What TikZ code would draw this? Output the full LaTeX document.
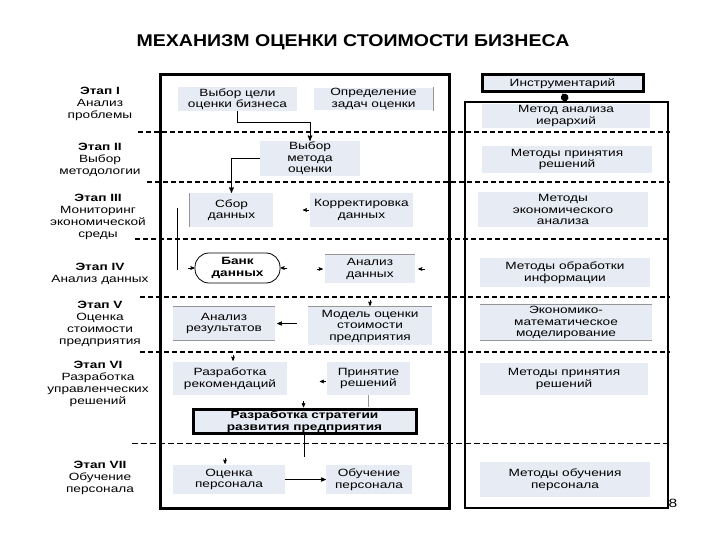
\documentclass[tikz,border=0pt]{standalone}
\usepackage{fontspec}
\setmainfont{Liberation Sans}[FakeStretch=1.3]
\newfontfamily\titlefont{Liberation Sans}[FakeStretch=1.15]
\usepackage{tikz}
\usetikzlibrary{arrows,shapes,calc,positioning}
\definecolor{boxfill}{RGB}{231,235,243}
\definecolor{edgegray}{RGB}{150,150,150}
\tikzstyle{block}=[rectangle,fill=boxfill,align=center,inner sep=1pt]
\tikzstyle{keyblock}=[block,draw=black,line width=3pt,font=\fontsize{10.5}{11.5}\selectfont\bfseries]
\tikzstyle{bank}=[rectangle,rounded corners=14pt,draw=black,line width=.8pt,
			  fill=white,align=center,font=\fontsize{10.5}{11.5}\selectfont\bfseries]
\tikzstyle{frame}=[rectangle,draw=black,line width=3pt]
\tikzstyle{stage}=[align=center,inner sep=0pt,font=\fontsize{10.5}{12}\selectfont]
\tikzstyle{sep}=[black,line width=1.8pt,dash pattern=on 5pt off 3pt]
\tikzstyle{edge}=[edgegray,line width=.8pt]
\tikzstyle{arrow}=[->,line width=.8pt,black]
\tikzstyle{stub}=[->,line width=.6pt,black]
\tikzstyle{wire}=[black,line width=.7pt]

\begin{document}
\begin{tikzpicture}[>=stealth',x=1pt,y=-1pt,
                    font=\fontsize{10.5}{11.5}\selectfont]
	\useasboundingbox (0,0) rectangle (720,540);

	\node[font=\titlefont\bfseries\fontsize{17}{20}\selectfont] (title) at (353,42)
		{МЕХАНИЗМ ОЦЕНКИ СТОИМОСТИ БИЗНЕСА};

	\node[frame,minimum width=289,minimum height=433] (mainbox) at (304.5,291.5) {};
	\node[frame,line width=2.5pt,minimum width=203,minimum height=406] (rbox) at (566.5,305) {};

	\foreach \y/\xs in {132/138,182/147,239/135,297/140,352/140}
		\draw[sep] (\xs,\y) -- (670,\y);
	\draw[sep,line width=1pt,dash pattern=on 6pt off 3pt] (132,443) -- (670,443);

	\node[stage] (st1) at (100,103.5) {\textbf{Этап I}\\Анализ\\проблемы};
	\node[stage] (st2) at (100,160) {\textbf{Этап II}\\Выбор\\методологии};
	\node[stage] (st3) at (98,217) {\textbf{Этап III}\\Мониторинг\\экономической\\среды};
	\node[stage] (st4) at (100,274) {\textbf{Этап IV}\\Анализ данных};
	\node[stage] (st5) at (100,324) {\textbf{Этап V}\\Оценка\\стоимости\\предприятия};
	\node[stage] (st6) at (98,384) {\textbf{Этап VI}\\Разработка\\управленческих\\решений};
	\node[stage] (st7) at (100,478) {\textbf{Этап VII}\\Обучение\\персонала};

	\node[block,minimum width=119,minimum height=22] (goal) at (237.5,99) {Выбор цели\\оценки бизнеса};
	\node[block,minimum width=119,minimum height=22] (tasks) at (373.5,99) {Определение\\задач оценки};
	\node[block,minimum width=100,minimum height=33] (method) at (310,158.5) {Выбор\\метода\\оценки};
	\node[block,minimum width=83,minimum height=34] (collect) at (231.5,210) {Сбор\\данных};
	\node[block,minimum width=103,minimum height=34] (correct) at (361.5,210) {Корректировка\\данных};
	\node[bank,minimum width=85,minimum height=30] (bankdata) at (237.5,268) {Банк\\данных};
	\node[block,minimum width=90,minimum height=28] (analysis) at (370,269) {Анализ\\данных};
	\node[block,minimum width=102,minimum height=33] (results) at (224,323.5) {Анализ\\результатов};
	\node[block,minimum width=124,minimum height=38] (model) at (370,326) {Модель оценки\\стоимости\\предприятия};
	\node[block,minimum width=114,minimum height=33] (recom) at (230,378.5) {Разработка\\рекомендаций};
	\node[block,minimum width=83,minimum height=33] (accept) at (368.5,378.5) {Принятие\\решений};
	\node[keyblock,minimum width=223,minimum height=23] (strategy) at (304.5,421.5)
		{Разработка стратегии\\развития предприятия};
	\node[block,minimum width=112,minimum height=29] (staff) at (229,479.5) {Оценка\\персонала};
	\node[block,minimum width=86,minimum height=29] (train) at (369,479.5) {Обучение\\персонала};

	\node[block,draw=black,line width=3pt,minimum width=161,minimum height=17] (tools) at (562.5,83.5) {Инструментарий};
	\node[block,minimum width=168,minimum height=24] (r1) at (566,116) {Метод анализа\\иерархий};
	\node[block,minimum width=170,minimum height=27] (r2) at (567,159.5) {Методы принятия\\решений};
	\node[block,minimum width=170,minimum height=35] (r3) at (563,209.5) {Методы\\экономического\\анализа};
	\node[block,minimum width=170,minimum height=29] (r4) at (565,272.5) {Методы обработки\\информации};
	\node[block,minimum width=172,minimum height=35] (r5) at (566,322.5) {Экономико-\\математическое\\моделирование};
	\node[block,minimum width=168,minimum height=32] (r6) at (564,379) {Методы принятия\\решений};
	\node[block,minimum width=170,minimum height=35] (r7) at (565,479.5) {Методы обучения\\персонала};

	\node[font=\fontsize{12}{14}\selectfont] (pagenum) at (673,503) {8};

	\draw[edge] (tasks.north east) -- (tasks.south east);
	\draw[edge,line width=1.2pt] (collect.north west) -- (collect.south west);
	\draw[edge] (analysis.north west) -- (analysis.north east);
	\draw[edge] (results.north west) -- (results.north east);
	\draw[edge] (results.south west) -- (results.south east);
	\draw[edge] (model.north west) -- (model.north east);
	\draw[edge] (r5.north west) -- (r5.north east);
	\draw[edge] (r5.south west) -- (r5.south east);

	\draw[arrow,line width=1pt] (goal.south) -- ++(0,12) -| (method.north);
	\draw[arrow,line width=1pt] (method.west) -| (collect.north);
	\draw[stub] ($(correct.west)+(-1,0)$) -- ++(-6,0);

	\coordinate (down1) at (177,208);
	\coordinate (down2) at (177,270);
	\draw[wire] (down1) -- (down2);
	\draw[stub] ($(bankdata.west)+(-7,0)$) -- (bankdata.west);
	\draw[stub] ($(bankdata.east)+(7,0)$) -- (bankdata.east);
	\draw[stub] ($(analysis.west)+(-8,0)$) -- ($(analysis.west)+(-2,0)$);
	\draw[stub] ($(analysis.east)+(10,0)$) -- ($(analysis.east)+(3,0)$);
	\draw[stub] ($(model.north)+(0,-7)$) -- ($(model.north)+(0,-1)$);
	\draw[arrow,shorten <=11pt,shorten >=2pt] (model.west |- results.east) -- (results.east);

	\draw[stub] ($(recom.north)+(3,-7)$) -- ++(0,6);
	\draw[stub] ($(accept.west)+(-1,3)$) -- ++(-6,0);
	\draw[edge] (accept.south) -- ++(0,12);
	\draw[stub] ($(strategy.north)+(-1,-7)$) -- ++(0,6);
	\draw[wire] (strategy.south) -- ++(0,22);
	\draw[stub] ($(staff.north)+(-4,-7)$) -- ++(0,6);
	\draw[arrow] (staff.east) -- (train.west);

	\draw[wire,line width=1.4pt,{stealth'}-*] (tools.south) -- (rbox.north);

\end{tikzpicture}
\end{document}
